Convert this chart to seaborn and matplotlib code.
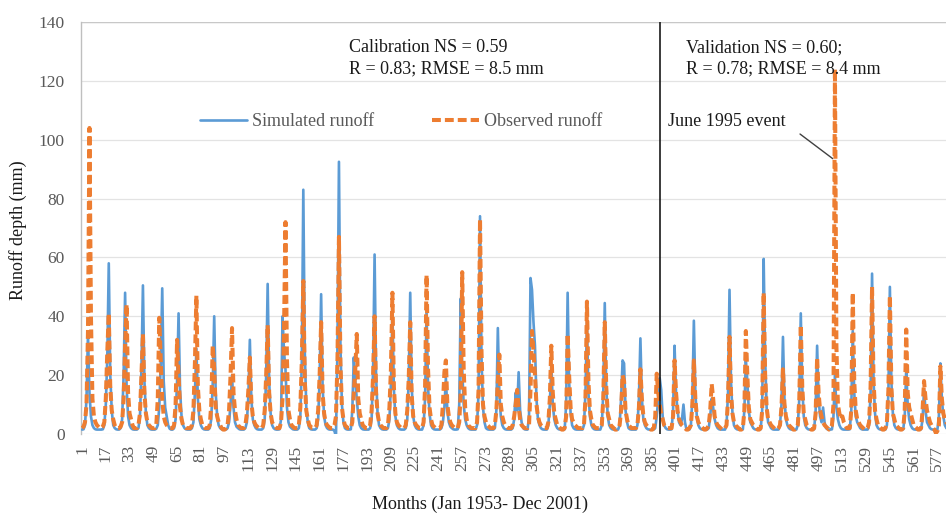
import numpy as np
import pandas as pd
import matplotlib
matplotlib.use("Agg")
import matplotlib.pyplot as plt
import seaborn as sns

# ---------------- data (monthly runoff depth, mm), Jan 1953 - Dec 2001 ----------------
years = list(range(1953, 2002))

simulated_by_year = [
    [1.5, 1.6, 3, 12, 34, 14, 6, 3, 2, 1.6, 1.5, 1.5],          # 1953
    [1.5, 1.5, 1.6, 3, 10, 26, 58, 20, 8, 3, 2, 1.6],           # 1954
    [1.5, 1.5, 2, 5, 20, 48, 16, 6, 3, 2, 1.6, 1.5],            # 1955
    [1.5, 1.5, 2, 6, 22, 50.5, 18, 7, 3, 2, 1.6, 1.5],          # 1956
    [1.5, 1.5, 1.8, 3, 9, 24, 49.5, 18, 9, 6, 3, 1.8],          # 1957
    [1.5, 1.5, 2, 5, 18, 41, 15, 6, 3, 2, 1.6, 1.5],            # 1958
    [1.5, 1.5, 2, 4, 14, 29, 12, 5, 3, 2, 1.6, 1.5],            # 1959
    [1.5, 1.5, 2, 5, 17, 40, 14, 6, 3, 2, 1.6, 1.5],            # 1960
    [1.5, 1.5, 2, 4, 10, 20, 9, 4, 2.5, 2, 1.6, 1.5],           # 1961
    [1.5, 1.5, 2, 4, 13, 32, 12, 5, 3, 2, 1.6, 1.5],            # 1962
    [1.5, 1.5, 2, 5, 20, 51, 18, 7, 3, 2, 1.6, 1.5],            # 1963
    [1.5, 1.6, 5, 40, 28, 22, 9, 4, 2.5, 2, 1.6, 1.5],          # 1964
    [1.5, 1.5, 2, 6, 25, 83, 28, 9, 4, 2, 1.6, 1.5],            # 1965
    [1.5, 1.5, 2, 5, 19, 47.5, 16, 6, 3, 2, 1.6, 1.5],          # 1966
    [1.5, 1.5, 1, -1, 30, 92.5, 30, 10, 4, 2, 1.6, 1.5],        # 1967
    [1.5, 1.6, 8, 26, 18, 12, 6, 3, 2, 1.6, 1.5, 1.5],          # 1968
    [1.5, 1.5, 2, 5, 22, 61, 20, 7, 3, 2, 1.6, 1.5],            # 1969
    [1.5, 1.5, 2, 5, 17, 42, 15, 6, 3, 2, 1.6, 1.5],            # 1970
    [1.5, 1.5, 2, 5, 19, 48, 16, 6, 3, 2, 1.6, 1.5],            # 1971
    [1.5, 1.5, 3, 12, 42, 16, 7, 3, 2, 1.6, 1.5, 1.5],          # 1972
    [1.5, 1.5, 2, 4, 9, 19, 8, 4, 2.5, 2, 1.6, 1.5],            # 1973
    [1.5, 1.6, 10, 46, 22, 10, 5, 3, 2, 1.6, 1.5, 1.5],         # 1974
    [1.5, 1.5, 3, 14, 74, 26, 9, 4, 2, 1.6, 1.5, 1.5],          # 1975
    [1.5, 1.5, 2, 8, 36, 14, 6, 3, 2, 1.6, 1.5, 1.5],           # 1976
    [1.5, 1.5, 2, 5, 14, 8, 21, 8, 4, 2, 1.6, 1.5],             # 1977
    [1.5, 6, 53, 49, 38, 30, 12, 5, 3, 2, 1.6, 1.5],            # 1978
    [1.5, 1.5, 3, 10, 24, 10, 5, 3, 2, 1.6, 1.5, 1.5],          # 1979
    [1.5, 1.6, 10, 48, 18, 7, 3, 2, 1.6, 1.5, 1.5, 1.5],        # 1980
    [1.5, 1.5, 3, 14, 38, 14, 6, 3, 2, 1.6, 1.5, 1.5],          # 1981
    [1.5, 1.5, 3, 14, 44.5, 16, 6, 3, 2, 1.6, 1.5, 1.5],        # 1982
    [1.5, 1.5, 3, 12, 25, 24, 8, 4, 2, 1.6, 1.5, 1.5],          # 1983
    [1.5, 1.5, 3, 12, 32.5, 12, 5, 3, 2, 1.6, 1.5, 1.5],        # 1984
    [1.5, 1.5, 2, 6, 12, 19, 15, 6, 3, 2, 1.6, 1.5],            # 1985
    [1.5, 1.6, 8, 30, 14, 8, 4, 3, 5, 10, 4, 1.6],              # 1986
    [1.5, 1.5, 3, 12, 38.5, 14, 6, 3, 2, 1.6, 1.5, 1.5],        # 1987
    [1.5, 1.5, 2, 6, 12, 9, 5, 3, 2, 1.6, 1.5, 1.5],            # 1988
    [1.5, 1.5, 3, 14, 49, 18, 7, 3, 2, 1.6, 1.5, 1.5],          # 1989
    [1.5, 1.6, 8, 25, 18, 8, 4, 3, 2, 1.6, 1.5, 1.5],           # 1990
    [1.5, 1.6, 8, 59.5, 26, 9, 4, 3, 2, 1.6, 1.5, 1.5],         # 1991
    [1.5, 1.5, 3, 10, 33, 12, 5, 3, 2, 1.6, 1.5, 1.5],          # 1992
    [1.5, 1.5, 3, 12, 41, 16, 6, 3, 2, 1.6, 1.5, 1.5],          # 1993
    [1.5, 1.6, 8, 30, 12, 6, 4, 9, 4, 2, 1.6, 1.5],             # 1994
    [1.5, 1.6, 6, 20, 9, 5, 3, 2, 1.6, 1.5, 1.5, 1.5],          # 1995
    [1.5, 1.6, 8, 35, 14, 6, 4, 3, 2, 1.6, 1.5, 1.5],           # 1996
    [1.5, 1.5, 3, 14, 54.5, 18, 7, 3, 2, 1.6, 1.5, 1.5],        # 1997
    [1.5, 1.5, 3, 14, 50, 18, 7, 3, 2, 1.6, 1.5, 1.5],          # 1998
    [1.5, 1.6, 6, 22, 10, 5, 3, 2, 1.6, 1.5, 1.5, 1.5],         # 1999
    [1.5, 1.6, 5, 15, 8, 4, 3, 2, 1.6, 1.5, 1.5, 1.5],          # 2000
    [1.5, 6, 24, 12, 6, 3, 2, 1.6, 1.5, 1.5, 1.5, 1.5],         # 2001
]

observed_by_year = [
    [2, 2.5, 4, 10, 35, 104, 40, 12, 6, 4, 3, 2.5],             # 1953
    [2, 2, 2.5, 4, 12, 28, 41, 16, 8, 5, 3, 2],                 # 1954
    [2, 2, 2.5, 4, 12, 30, 44, 14, 7, 5, 3, 2],                 # 1955
    [2, 2, 3, 7, 20, 34, 14, 7, 4, 3, 2.5, 2],                  # 1956
    [2, 2, 3, 12, 39.5, 25, 12, 6, 4, 3, 2.5, 2],               # 1957
    [2, 2, 3, 10, 32, 20, 9, 5, 3, 2.5, 2, 2],                  # 1958
    [2, 2, 3, 8, 24, 47, 16, 8, 5, 3, 2.5, 2],                  # 1959
    [2, 2, 3, 10, 30, 22, 9, 6, 4, 3, 2, 1.5],                  # 1960
    [1.5, 2, 3, 8, 20, 36, 14, 8, 5, 3, 2.5, 2],                # 1961
    [2, 2, 3, 7, 15, 26, 11, 6, 4, 3, 2.5, 2],                  # 1962
    [2, 2, 3, 8, 20, 37, 14, 7, 4, 3, 2.5, 2],                  # 1963
    [2, 2, 4, 12, 35, 72, 25, 8, 5, 3, 2.5, 2],                 # 1964
    [2, 2, 3, 9, 25, 52, 18, 8, 5, 3, 2.5, 2],                  # 1965
    [2, 2, 3, 8, 20, 38, 14, 7, 4, 3, 2.5, 2],                  # 1966
    [2, 2, 3, 6, 25, 67, 24, 9, 5, 3, 2.5, 2],                  # 1967
    [2, 2, 4, 14, 22, 34, 12, 7, 5, 3, 2.5, 2],                 # 1968
    [2, 2, 3, 8, 20, 40, 14, 7, 4, 3, 2.5, 2],                  # 1969
    [2, 2, 3, 9, 22, 48, 16, 7, 4, 3, 2.5, 2],                  # 1970
    [2, 2, 3, 8, 19, 38, 13, 6, 4, 3, 2.5, 2],                  # 1971
    [2, 2, 4, 16, 54, 22, 9, 5, 3, 2.5, 2, 2],                  # 1972
    [2, 2, 3, 10, 21, 25, 10, 6, 4, 3, 2.5, 2],                 # 1973
    [2, 2, 4, 14, 55, 22, 9, 5, 3, 2.5, 2, 2],                  # 1974
    [2, 2, 4, 15, 73, 28, 10, 6, 4, 3, 2.5, 2],                 # 1975
    [2, 2, 3, 8, 18, 27, 10, 6, 4, 3, 2.5, 2],                  # 1976
    [2, 2, 3, 6, 10, 15, 9, 5, 3, 2.5, 2, 2],                   # 1977
    [2, 3, 15, 35, 28, 20, 10, 6, 4, 3, 2.5, 2],                # 1978
    [2, 2, 4, 12, 30, 14, 7, 5, 3, 2.5, 2, 1.5],                # 1979
    [1.5, 2, 6, 34, 20, 9, 5, 4, 3, 2.5, 2, 2],                 # 1980
    [2, 2, 3, 12, 45, 18, 8, 5, 3, 2.5, 2, 2],                  # 1981
    [2, 2, 3, 12, 38, 16, 7, 5, 3, 2.5, 2, 1.5],                # 1982
    [1.5, 2, 3, 8, 20, 18, 8, 5, 3, 2.5, 2, 2],                 # 1983
    [2, 2, 3, 9, 22, 12, 6, 4, 3, 2.5, 2, 1.5],                 # 1984
    [1.5, 2, 6, 20.5, 14, 10, 7, 5, 3, 2.5, 2, 2],              # 1985
    [2, 2, 6, 25, 14, 8, 5, 4, 3, 2.5, 2, 1.5],                 # 1986
    [1.5, 2, 3, 10, 25, 12, 6, 4, 3, 2.5, 2, 1.5],              # 1987
    [1.5, 2, 3, 8, 17, 12, 6, 4, 3, 2.5, 2, 1.5],               # 1988
    [1.5, 2, 3, 12, 33, 14, 7, 4, 3, 2.5, 2, 1.5],              # 1989
    [1.5, 2, 8, 35, 20, 9, 5, 4, 3, 2.5, 2, 1.5],               # 1990
    [1.5, 2, 8, 48, 20, 9, 5, 4, 3, 2.5, 2, 1.5],               # 1991
    [1.5, 2, 3, 9, 22, 10, 6, 4, 3, 2.5, 2, 1.5],               # 1992
    [1.5, 2, 3, 12, 37, 16, 7, 5, 3, 2.5, 2, 1.5],              # 1993
    [1.5, 2, 7, 26, 14, 8, 6, 4, 3, 2.5, 2, 1.5],               # 1994
    [2, 3, 10, 124, 30, 10, 7, 5, 6, 4, 3, 2],                  # 1995
    [2, 2, 8, 48, 18, 8, 5, 4, 3, 2.5, 2, 1.5],                 # 1996
    [1.5, 2, 4, 16, 50, 18, 8, 5, 3, 2.5, 2, 1.5],              # 1997
    [1.5, 2, 4, 15, 47, 16, 7, 5, 3, 2.5, 2, 1.5],              # 1998
    [1.5, 2, 8, 35.5, 14, 9, 7, 5, 3, 2.5, 2, 1.5],             # 1999
    [1.5, 2, 8, 18, 12, 8, 6, 4, 3, 2, 1.5, 0.3],               # 2000
    [1, 3, 23, 12, 7, 5, 4, 3, 2.5, 2, 2, 2],                   # 2001
]

y_ticks = [0, 20, 40, 60, 80, 100, 120, 140]
x_tick_labels = list(range(1, 589, 16))
split_month = 390          # calibration / validation boundary
event_month = 508          # June 1995 event
calib_text = "Calibration NS = 0.59\nR = 0.83; RMSE = 8.5 mm"
valid_text = "Validation NS = 0.60;\nR = 0.78; RMSE = 8.4 mm"

# ---------------- build table ----------------
simulated = [v for row in simulated_by_year for v in row]
observed = [v for row in observed_by_year for v in row]
months = list(range(1, len(simulated) + 1))
df = pd.DataFrame({"month": months, "Simulated runoff": simulated,
                   "Observed runoff": observed})

# ---------------- style ----------------
sns.set_theme(style="white")
plt.rcParams["font.family"] = ["Liberation Serif", "DejaVu Serif"]
BLUE = "#5B9BD5"
ORANGE = "#ED7D31"
GRAY_TXT = "#595959"

W, H = 946, 515
PX_PER_MONTH = 1.485
fig = plt.figure(figsize=(W / 100, H / 100), dpi=100)
ax = fig.add_axes([81.3 / W, 1 - 434 / H, (946 - 81.3) / W, (434 - 22) / H])

sns.lineplot(data=df, x="month", y="Simulated runoff", ax=ax, color=BLUE,
             lw=1.9, label="Simulated runoff", zorder=3)
sns.lineplot(data=df, x="month", y="Observed runoff", ax=ax, color=ORANGE,
             lw=2.9, label="Observed runoff", zorder=4,
             dashes=False, linestyle=(0, (2.2, 1.0)))

ax.set_xlim(0.5, 0.5 + (946 - 81.3) / PX_PER_MONTH)
ax.set_ylim(0, 140)
ax.set_yticks(y_ticks)
ax.set_xticks(x_tick_labels)
ax.set_xticklabels([str(t) for t in x_tick_labels], rotation=90)
ax.tick_params(axis="both", length=0, labelsize=12.5, colors=GRAY_TXT)
ax.tick_params(axis="x", pad=8)
ax.tick_params(axis="y", pad=12)
ax.yaxis.grid(True, color="#E3E3E3", lw=0.9)
ax.set_axisbelow(True)
for s in ["top", "right", "bottom"]:
    ax.spines[s].set_visible(False)
ax.spines["left"].set_color("#BFBFBF")
ax.spines["left"].set_linewidth(1.0)
ax.axhline(140, color="#C8C8C8", lw=1.0, zorder=1)
ax.set_xlabel("")
ax.set_ylabel("")

# boundary line
ax.axvline(split_month, color="#1A1A1A", lw=1.2, zorder=5)

# legend
handles, labels = ax.get_legend_handles_labels()
leg = ax.legend(handles, labels, loc="center", ncol=2, frameon=False,
                bbox_to_anchor=(401 / W, 1 - 122 / H), bbox_transform=fig.transFigure,
                fontsize=13, handlelength=2.6, columnspacing=3.2, handletextpad=0.3)
for t in leg.get_texts():
    t.set_color(GRAY_TXT)

# annotations
fig.text(349 / W, 1 - 39 / H, calib_text, fontsize=13, va="top", ha="left",
         color="#1A1A1A", linespacing=1.35)
fig.text(686 / W, 1 - 39 / H, valid_text, fontsize=13, va="top", ha="left",
         color="#1A1A1A", linespacing=1.35)
fig.text(668 / W, 1 - 122 / H, "June 1995 event", fontsize=13, va="center",
         ha="left", color="#1A1A1A")
ax.annotate("", xy=(event_month, 93), xytext=(483, 102.5),
            arrowprops=dict(arrowstyle="-", color="#404040", lw=1.0))

# axis titles
fig.text(18 / W, 1 - 230 / H, "Runoff depth (mm)", rotation=90, fontsize=13,
         va="center", ha="center", color="#1A1A1A")
fig.text(480 / W, 1 - 504 / H, "Months (Jan 1953- Dec 2001)", fontsize=13,
         va="center", ha="center", color="#1A1A1A")

fig.savefig("out.png", dpi=100)
